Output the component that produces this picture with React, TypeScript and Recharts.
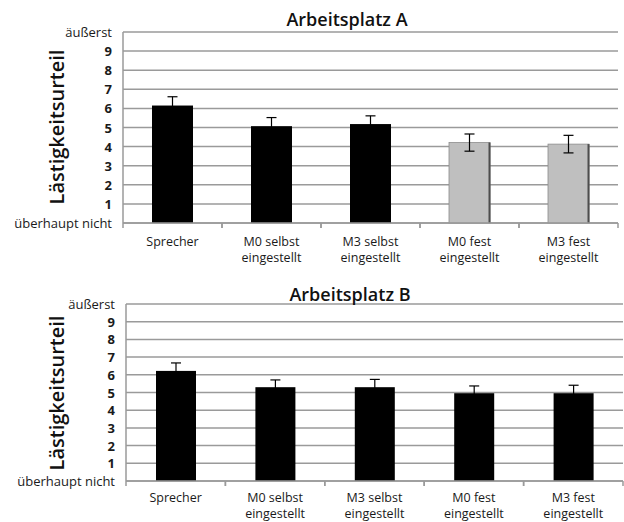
import React from "react";
import { Bar, BarChart, CartesianGrid, Cell, ErrorBar, XAxis, YAxis } from "recharts";

const categories = ["Sprecher", "M0 selbst eingestellt", "M3 selbst eingestellt", "M0 fest eingestellt", "M3 fest eingestellt"];
const valuesA = [6.15, 5.07, 5.18, 4.21, 4.13];
const errorsA = [0.46, 0.45, 0.43, 0.45, 0.46];
const colorsA = ["#000000", "#000000", "#000000", "#bfbfbf", "#bfbfbf"];
const valuesB = [6.22, 5.3, 5.3, 4.96, 4.96];
const errorsB = [0.45, 0.41, 0.44, 0.41, 0.45];
const colorsB = ["#000000", "#000000", "#000000", "#000000", "#000000"];
const yTicks = [0, 1, 2, 3, 4, 5, 6, 7, 8, 9, 10];
const yTickLabels = ["überhaupt nicht", "1", "2", "3", "4", "5", "6", "7", "8", "9", "äußerst"];

const FONT = "'Open Sans', 'DejaVu Sans', sans-serif";
const GRID = "#9a9a9a";

function YTick(props: any) {
    const { x, y, payload } = props;
    const label = yTickLabels[payload.index] ?? String(payload.value);
    const isWord = label.length > 1;
    return (
        <text x={x} y={y} textAnchor="end" dominantBaseline="central" fontFamily={FONT}
            fontSize={13} fontWeight={isWord ? 400 : 700} fill="#1a1a1a">
            {label}
        </text>
    );
}

function XTick(props: any) {
    const { x, y, payload, band, first } = props;
    const words = String(payload.value).split(" ");
    const lines = words.length > 1 ? [words.slice(0, -1).join(" "), words[words.length - 1]] : words;
    return (
        <g>
            <line x1={x - band / 2} y1={y} x2={x - band / 2} y2={y + 5} stroke={GRID} strokeWidth={1.5} />
            <line x1={x + band / 2} y1={y} x2={x + band / 2} y2={y + 5} stroke={GRID} strokeWidth={1.5} />
            <text x={x} y={y + first} textAnchor="middle" fontFamily={FONT} fontSize={12.5} fill="#1a1a1a">
                {lines.map((l, i) => (
                    <tspan key={i} x={x} dy={i === 0 ? 0 : 16}>{l}</tspan>
                ))}
            </text>
        </g>
    );
}

function ShadedBar(props: any) {
    const { x, y, width, height, fill } = props;
    if (fill === "#000000") {
        return <rect x={x} y={y} width={width} height={height} fill={fill} />;
    }
    return (
        <g>
            <rect x={x} y={y} width={width} height={height} fill={fill} stroke="#8c8c8c" strokeWidth={0.8} />
            <line x1={x + width - 0.5} y1={y} x2={x + width - 0.5} y2={y + height} stroke="#4d4d4d" strokeWidth={2} />
        </g>
    );
}

interface PanelProps {
    values: number[];
    errors: number[];
    colors: string[];
    height: number;
    top: number;
    axisHeight: number;
    yAxisWidth: number;
    right: number;
    barSize: number;
    labelOffset: number;
}

function Panel({ values, errors, colors, height, top, axisHeight, yAxisWidth, right, barSize, labelOffset }: PanelProps) {
    const data = categories.map((name, i) => ({ name, value: values[i], err: errors[i] }));
    const band = (624 - yAxisWidth - right) / categories.length;
    return (
        <BarChart width={624} height={height} data={data} margin={{ top, right, left: 0, bottom: 0 }} barCategoryGap="10%">
            <CartesianGrid vertical={false} stroke={GRID} strokeWidth={1.5} />
            <XAxis dataKey="name" height={axisHeight} axisLine={{ stroke: GRID, strokeWidth: 1.5 }} tickLine={false}
                tickSize={0} tickMargin={0} interval={0} tick={<XTick band={band} first={labelOffset} />} />
            <YAxis domain={[0, 10]} ticks={yTicks} width={yAxisWidth} axisLine={{ stroke: GRID, strokeWidth: 1.5 }}
                tickLine={false} tickSize={0} tickMargin={11} interval={0} tick={<YTick />} />
            <YAxis yAxisId="frame" orientation="right" width={0} domain={[0, 10]} axisLine={{ stroke: GRID, strokeWidth: 1.5 }}
                tick={false} tickLine={false} />
            <Bar dataKey="value" barSize={barSize} isAnimationActive={false} shape={<ShadedBar />}>
                {data.map((d, i) => (
                    <Cell key={d.name} fill={colors[i]} />
                ))}
                <ErrorBar dataKey="err" width={5} stroke="#000000" strokeWidth={1.2} direction="y" />
            </Bar>
        </BarChart>
    );
}

export default function App() {
    return (
        <div style={{ position: "absolute", left: 0, top: 0, width: 624, height: 522, background: "#fff" }}>
            <div style={{ position: "absolute", left: 0, top: 0 }}>
                <Panel values={valuesA} errors={errorsA} colors={colorsA} height={270} top={32} axisHeight={47}
                    yAxisWidth={123} right={6} barSize={41} labelOffset={23} />
            </div>
            <div style={{ position: "absolute", left: 0, top: 270 }}>
                <Panel values={valuesB} errors={errorsB} colors={colorsB} height={252} top={34} axisHeight={41}
                    yAxisWidth={126} right={1} barSize={40} labelOffset={21} />
            </div>
            <svg width={624} height={522} style={{ position: "absolute", left: 0, top: 0, pointerEvents: "none" }}>
                <text x={347} y={26} textAnchor="middle" fontFamily={FONT} fontSize={18} fontWeight={600} fill="#111">Arbeitsplatz A</text>
                <text x={350} y={301} textAnchor="middle" fontFamily={FONT} fontSize={18} fontWeight={600} fill="#111">Arbeitsplatz B</text>
                <text transform="translate(64,127) rotate(-90)" textAnchor="middle" fontFamily={FONT} fontSize={20}
                    fontWeight={600} fill="#111">Lästigkeitsurteil</text>
                <text transform="translate(64,393) rotate(-90)" textAnchor="middle" fontFamily={FONT} fontSize={20}
                    fontWeight={600} fill="#111">Lästigkeitsurteil</text>
            </svg>
        </div>
    );
}
